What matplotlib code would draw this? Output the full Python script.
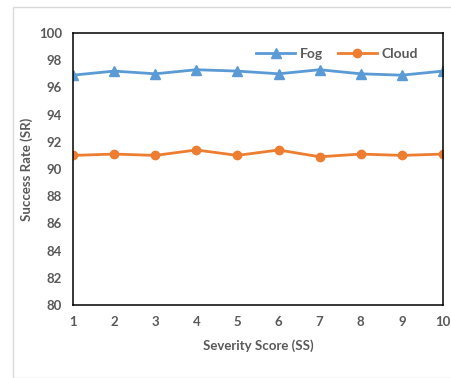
import matplotlib
matplotlib.use("Agg")
from matplotlib import pyplot as plt
from matplotlib.patches import Rectangle

# Dados
severidade = [1, 2, 3, 4, 5, 6, 7, 8, 9, 10]
fog = [96.9, 97.2, 97.0, 97.3, 97.2, 97.0, 97.3, 97.0, 96.9, 97.2]
cloud = [91.0, 91.1, 91.0, 91.4, 91.0, 91.4, 90.9, 91.1, 91.0, 91.1]
y_ticks = [80, 82, 84, 86, 88, 90, 92, 94, 96, 98, 100]

plt.rcParams['font.family'] = ['Lato', 'DejaVu Sans']
cinza = '#595959'

fig = plt.figure(figsize=(4.52, 3.78), dpi=100)
ax = fig.add_axes([0.1615, 0.193, 0.8185, 0.7197])

# moldura externa clara
fig.patches.append(Rectangle((13 / 452, 0), 1, 1 - 7 / 378, transform=fig.transFigure,
                             fill=False, edgecolor='#d9d9d9', linewidth=1))

ax.plot(severidade, fog, color='#5B9BD5', marker='^', markersize=6.5, linewidth=2, label='Fog')
ax.plot(severidade, cloud, color='#ED7D31', marker='o', markersize=6, linewidth=2, label='Cloud')

ax.set_xlim(1, 10)
ax.set_ylim(80, 100)
ax.set_xticks(severidade)
ax.set_yticks(y_ticks)
ax.tick_params(length=0, labelsize=9.5, labelcolor=cinza, pad=8)
for lbl in ax.get_xticklabels() + ax.get_yticklabels():
    lbl.set_fontweight('bold')
for s in ax.spines.values():
    s.set_linewidth(1.1)
    s.set_color('black')

ax.set_xlabel('Severity Score (SS)', fontsize=9.5, fontweight='bold', color=cinza, labelpad=8)
ax.set_ylabel('Success Rate (SR)', fontsize=9.5, fontweight='bold', color=cinza, labelpad=4)

leg = ax.legend(loc='upper right', ncol=2, frameon=False, fontsize=10,
                bbox_to_anchor=(0.965, 0.99), handlelength=2.8, columnspacing=1.1, handletextpad=0.3)
for t in leg.get_texts():
    t.set_color(cinza)
    t.set_fontweight('bold')

fig.savefig('out.png', dpi=100)
